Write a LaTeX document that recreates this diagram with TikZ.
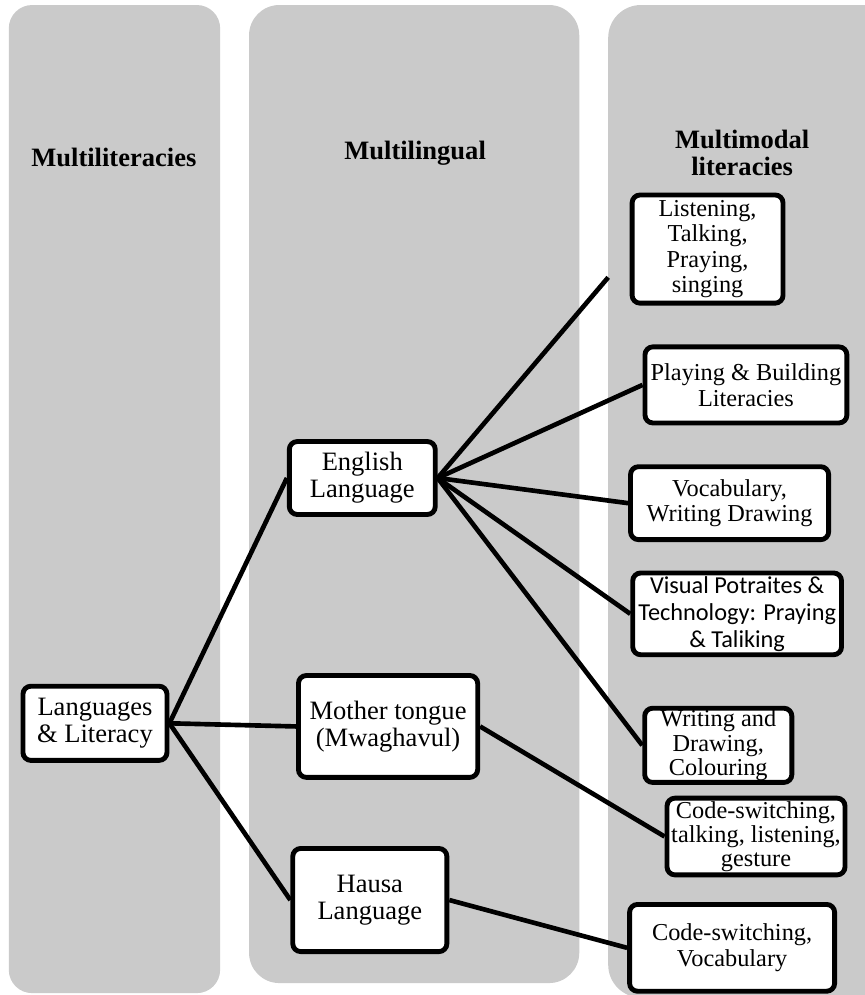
\documentclass[tikz,border=0pt]{standalone}
\usepackage{fontspec}
\setmainfont{Liberation Serif}
\newfontfamily\calibri{Carlito}
\usepackage{tikz}
\usetikzlibrary{positioning}
\definecolor{colbg}{RGB}{202,202,202}

\begin{document}
\begin{tikzpicture}[
    box/.style={draw, line width=2.2pt, rounded corners=3.6pt, fill=white, align=center, inner sep=1pt, font=\fontsize{12}{12.2}\selectfont},
    smallbox/.style={box, font=\fontsize{11}{11.6}\selectfont},
    title/.style={align=center, font=\bfseries\fontsize{12}{12.4}\selectfont},
    link/.style={line width=2.1pt}]

      \useasboundingbox (0,0) rectangle (13.74,-15.82);
      \fill[colbg, rounded corners=0.37cm] (0.14,-0.08) rectangle (3.50,-15.79);
      \fill[colbg, rounded corners=0.48cm] (3.96,-0.08) rectangle (9.21,-15.63);
      \fill[colbg, rounded corners=0.52cm] (9.67,-0.08) rectangle (14.3,-15.86);

      \node[title] (t1) at (1.81,-2.51) {Multiliteracies};
      \node[title] (t2) at (6.60,-2.43) {Multilingual};
      \node[title] (t3) at (11.80,-2.43) {Multimodal\\literacies};

      \node[box, minimum width=2.29cm, minimum height=1.18cm] (lang) at (1.51,-11.50) {Languages\\\& Literacy};
      \node[box, right of=lang, xshift=3.25cm, yshift=3.9cm, minimum width=2.32cm, minimum height=1.16cm] (eng) {English\\Language};
      \node[box, right of=lang, xshift=3.66cm, yshift=-0.05cm, minimum width=2.85cm, minimum height=1.62cm] (mother) {Mother tongue\\(Mwaghavul)};
      \node[box, right of=lang, xshift=3.37cm, yshift=-2.81cm, minimum width=2.45cm, minimum height=1.64cm] (hausa) {Hausa\\Language};

      \node[smallbox, right of=eng, xshift=4.49cm, yshift=3.64cm, minimum width=2.40cm, minimum height=1.72cm] (listen) {Listening,\\Talking,\\Praying,\\singing};
      \node[smallbox, right of=eng, xshift=5.10cm, yshift=1.48cm, minimum width=3.21cm, minimum height=1.21cm] (play) {Playing \& Building\\Literacies};
      \node[smallbox, right of=eng, xshift=4.84cm, yshift=-0.40cm, minimum width=3.15cm, minimum height=1.16cm] (vocab) {Vocabulary,\\Writing Drawing};
      \node[smallbox, right of=eng, xshift=4.96cm, yshift=-2.16cm, minimum width=3.32cm, minimum height=1.30cm, font=\calibri\fontsize{11}{12.2}\selectfont] (visual) {Visual Potraites \&\\Technology: Praying\\\& Taliking};
      \node[smallbox, right of=eng, xshift=4.66cm, yshift=-4.25cm, minimum width=2.34cm, minimum height=1.18cm, inner ysep=0pt, font=\fontsize{11}{11}\selectfont] (write) {Writing and\\Drawing,\\Colouring};
      \node[smallbox, right of=mother, xshift=4.85cm, yshift=-1.75cm, minimum width=2.83cm, minimum height=1.22cm, inner ysep=0pt, font=\fontsize{11}{11}\selectfont] (codeA) {Code-switching,\\talking, listening,\\gesture};
      \node[smallbox, right of=hausa, xshift=4.76cm, yshift=-0.76cm, minimum width=3.26cm, minimum height=1.38cm] (codeB) {Code-switching,\\Vocabulary};

      \coordinate (cut) at (9.67,-4.41);

      \draw[link] (lang.east) -- (eng.west);
      \draw[link] (lang.east) -- (mother.west);
      \draw[link] (lang.east) -- (hausa.west);
      \draw[link] (eng.east) -- (cut);
      \draw[link] (eng.east) -- (play.west);
      \draw[link] (eng.east) -- (vocab.west);
      \draw[link] (eng.east) -- (visual.west);
      \draw[link] (eng.east) -- (write.west);
      \draw[link] (mother.east) -- (codeA.west);
      \draw[link] (hausa.east) -- (codeB.west);
    \end{tikzpicture}
\end{document}
